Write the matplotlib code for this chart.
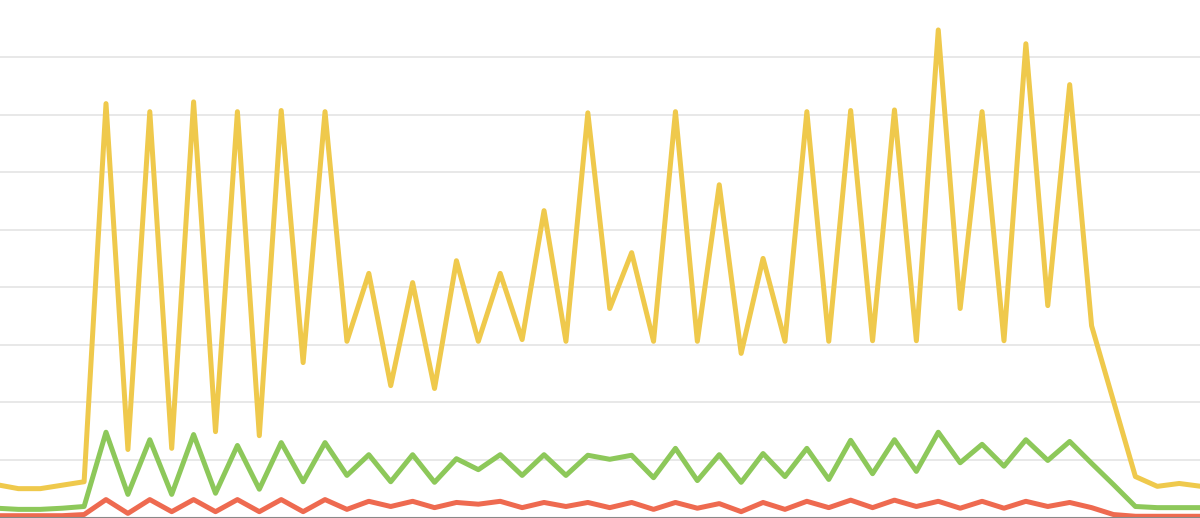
import matplotlib.pyplot as plt

# values, one point per period
yellow = [57, 50, 50, 56, 62, 719, 118, 705, 120, 722, 149, 705, 142, 707, 269, 705,
          306, 424, 229, 408, 224, 446, 306, 424, 309, 533, 306, 703, 363, 460, 306, 705,
          306, 578, 285, 450, 306, 705, 306, 707, 307, 708, 307, 847, 363, 705, 307, 823,
          368, 752, 333, 202, 71, 54, 59, 54]
green = [16, 14, 14, 16, 19, 148, 40, 135, 40, 144, 42, 125, 49, 130, 62, 130,
         73, 109, 62, 109, 61, 102, 83, 109, 73, 109, 73, 108, 101, 108, 69, 120,
         64, 109, 61, 111, 71, 120, 66, 134, 76, 135, 80, 148, 95, 127, 89, 135,
         99, 132, 94, 57, 19, 17, 17, 17]
red = [3, 3, 3, 3, 5, 31, 7, 31, 10, 31, 10, 31, 10, 31, 10, 31,
       14, 28, 19, 28, 17, 26, 23, 28, 17, 26, 19, 26, 17, 26, 14, 26,
       16, 24, 10, 26, 14, 28, 17, 30, 17, 30, 19, 28, 16, 28, 16, 28,
       19, 26, 17, 5, 2, 2, 2, 2]

x = list(range(len(yellow)))

fig = plt.figure(figsize=(12, 5.18), dpi=100)
ax = fig.add_axes([0, 0, 1, 1])

ax.plot(x, yellow, color="#EFC94C", lw=3.6, solid_joinstyle="round", zorder=3)
ax.plot(x, green, color="#8DC85A", lw=3.6, solid_joinstyle="round", zorder=4)
ax.plot(x, red, color="#EE6A50", lw=3.6, solid_joinstyle="round", zorder=5)

ax.set_xlim(0.16, 54.95)
ax.set_ylim(-1, 899)
ax.set_yticks(range(100, 900, 100))
ax.yaxis.grid(True, color="#e6e6e6", lw=1.3)
ax.set_axisbelow(True)
ax.tick_params(left=False, bottom=False, labelleft=False, labelbottom=False)
for s in ["top", "left", "right"]:
    ax.spines[s].set_visible(False)
ax.spines["bottom"].set_color("#888888")
ax.spines["bottom"].set_linewidth(1.5)
ax.spines["bottom"].set_zorder(6)

plt.savefig("out.png", dpi=100)
